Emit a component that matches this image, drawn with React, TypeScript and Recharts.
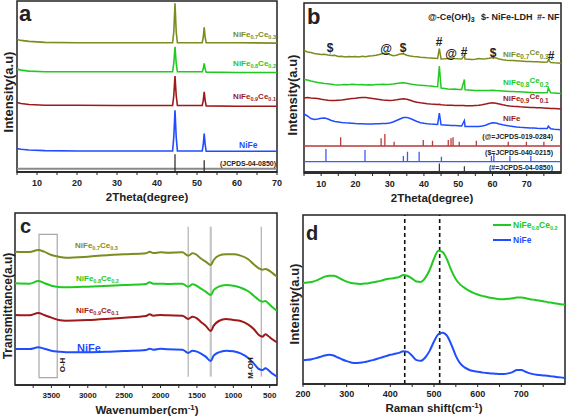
import React from 'react';
import { LineChart, Line, XAxis, YAxis, ReferenceArea, ReferenceLine } from 'recharts';

const FONT = '"Liberation Sans", Arial, Helvetica, sans-serif';
const OLIVE = '#7d8c1f';
const GREEN = '#22c922';
const RED = '#9e1a1a';
const BLUE = '#1f4dff';
const INK = '#222';

// ---------- Panel a : XRD ----------
const aTheta = [5, 6, 8, 12, 20, 30, 40, 43.9, 44.2, 44.5, 44.8, 45.1, 51.3, 51.55, 51.8, 52.05, 52.3, 60, 70];
const aCe03 = [397, 394, 391, 388, 387, 387, 387, 387, 420, 505, 420, 387, 387, 402, 433, 402, 387, 387, 386];
const aCe02 = [308, 305, 302, 300, 300, 300, 300, 300, 326, 375, 326, 300, 300, 308, 325, 308, 299, 298, 298];
const aCe01 = [208, 205, 202, 200, 200, 199, 199, 199, 229, 287, 229, 199, 199, 213, 240, 213, 198, 197, 197];
const aNiFe = [70, 68, 66, 64, 63, 63, 63, 63, 105, 185, 105, 63, 63, 81, 115, 81, 62, 62, 62];
const aTicks = [5, 10, 15, 20, 25, 30, 35, 40, 45, 50, 55, 60, 65, 70];
const nfPos = [44.5, 51.8];
const nfInt = [100, 66];

// ---------- Panel b : XRD ----------
const bTheta = [5, 6, 7, 8, 9, 10, 11, 12, 13, 14, 15, 16, 17, 18, 19, 20, 21, 22, 23, 24, 25, 26, 27, 28, 29, 30,
  31, 32, 33, 34, 35, 36, 37, 38, 39, 40, 41, 42, 43, 44, 44.5, 45, 46, 47, 48, 49, 50, 51, 51.8, 52, 53, 54, 55,
  56, 57, 58, 59, 60, 61, 62, 63, 64, 65, 66, 67, 68, 69, 70, 71, 72, 73, 74, 75, 76, 76.3, 77, 78, 79, 80];
const bCe03 = [122.5, 121, 120.5, 119.5, 119, 118.5, 118.8, 118, 117.5, 117.8, 116.5, 116.8, 116, 116.5, 116.2, 116.5,
  116, 116.8, 116.3, 117, 117.2, 117.8, 118.5, 119.5, 120, 118.5, 117.2, 117.8, 119, 119.2, 117.8, 117, 116.5, 116.2,
  115.8, 115.5, 115.2, 115, 114.8, 114.6, 124.5, 114, 114.2, 114.5, 115.2, 114.6, 114.2, 114, 117.5, 114, 113.8, 113.5,
  113.8, 114.5, 114, 114.2, 114.8, 115.5, 115, 114, 113.2, 112.8, 112.5, 112.4, 112.2, 112, 111.8, 111.6, 111.5, 111.3,
  111.2, 111, 110.8, 111, 113, 110.5, 110.2, 110, 109.7];
const bCe02 = [93.5, 93, 92, 91.2, 90.5, 90, 89.5, 89.2, 88.8, 88.3, 88, 88.2, 88.5, 88.3, 88.8, 88.6, 88.2, 88.5, 88,
  88.2, 88, 88.4, 88.6, 88.8, 88.5, 88.7, 89, 89.5, 90, 90.3, 89.8, 89, 88.4, 88, 87.8, 87.5, 87.2, 87, 86.6, 86.3, 107,
  85, 84.6, 84, 83.8, 83.9, 83.6, 83.5, 93.5, 83.2, 83, 82.8, 82.5, 82.6, 82.4, 82.5, 82.6, 82.8, 82.4, 82.2, 82, 81.8,
  81.6, 81.5, 81.3, 81.2, 81, 80.8, 80.6, 80.4, 80.3, 80.2, 80.3, 80.5, 85, 80.2, 80, 79.8, 79.6];
const bCe01 = [75, 75.5, 75, 74.8, 74.5, 73.8, 73.2, 72.8, 72.5, 72.6, 72.8, 73, 73.5, 74, 74.5, 74.8, 75.2, 75.5, 75.4,
  75, 74.5, 74, 73.5, 73, 72.8, 72.6, 72.8, 73.2, 73.8, 74.2, 73.8, 72.8, 71.5, 70.8, 70.2, 69.8, 69.3, 69, 68.8, 68.6,
  68.8, 68.3, 68, 67.8, 67.8, 67.6, 67.5, 67.4, 67.5, 67.3, 67.2, 67.2, 67.5, 67.8, 68.3, 69, 69.8, 70.2, 69.8, 69, 68.2,
  67.5, 67, 66.7, 66.5, 66.2, 66, 65.8, 65.6, 65.5, 65.3, 65.2, 65, 64.8, 64.8, 64.6, 64.4, 64.2, 64];
const bNiFe = [59, 57, 54.5, 53.5, 54, 54.8, 55, 54, 52.5, 51.5, 51, 50.5, 50.2, 50, 49.8, 49.5, 49.3, 49.2, 49, 49, 49,
  49.2, 49.3, 49.5, 49.6, 50, 51, 52.5, 54, 55.5, 55.6, 54.5, 53, 51.5, 50.3, 49.7, 49.3, 49, 48.8, 48.6, 60, 48.2, 48,
  47.8, 47.6, 47.4, 47.2, 47, 52.5, 46.6, 46.5, 46.4, 46.4, 46.6, 47, 47.8, 49.2, 50.3, 50, 49, 48.2, 47.6, 47, 46.5, 46,
  45.7, 45.5, 45.3, 45.1, 44.9, 44.7, 44.6, 44.5, 44.5, 46.8, 44.2, 43.8, 43.5, 43.2];
const bTicks = [5, 10, 15, 20, 25, 30, 35, 40, 45, 50, 55, 60, 65, 70, 75];
const ceohPos = [15.7, 27.5, 28.6, 31.3, 39.8, 42.5, 47.1, 47.9, 48.5, 50.3, 55.3, 64.6, 69.9, 75.0];
const ceohInt = [72, 64, 100, 36, 50, 44, 50, 64, 72, 36, 44, 36, 36, 36];
const ldhPos = [11.4, 22.8, 34.0, 35.2, 38.6, 45.1, 59.7, 60.4, 65.1, 71.2];
const ldhInt = [100, 92, 45, 79, 79, 39, 45, 66, 45, 45];

// ---------- Panel c : FTIR ----------
const cWave = [4000, 3800, 3680, 3600, 3500, 3400, 3300, 3000, 2700, 2500, 2200, 2150, 2100, 2000, 1900, 1700, 1620, 1560,
  1500, 1450, 1380, 1310, 1270, 1200, 1100, 1000, 900, 800, 720, 650, 600, 560, 520, 470, 400];
const cCe03 = [400, 399, 405, 400, 390, 385, 382, 385, 390, 392, 395, 400, 396, 398, 397, 398, 388, 395, 390, 380, 370, 360,
  375, 388, 392, 392, 388, 378, 362, 350, 346, 348, 345, 337, 325];
const cCe02 = [305, 304, 312, 306, 298, 294, 293, 295, 298, 300, 303, 308, 304, 304, 303, 304, 295, 302, 297, 290, 280, 270,
  285, 295, 300, 298, 292, 282, 268, 255, 250, 252, 245, 235, 222];
const cCe01 = [210, 209, 216, 210, 202, 195, 193, 195, 199, 202, 207, 212, 208, 210, 209, 208, 198, 205, 200, 190, 178, 162,
  178, 192, 198, 195, 192, 182, 168, 150, 145, 152, 147, 138, 128];
const cNiFe = [108, 108, 113, 109, 103, 100, 98, 98, 100, 102, 105, 109, 106, 109, 107, 106, 96, 103, 100, 95, 85, 72, 88,
  98, 103, 101, 95, 82, 65, 48, 45, 50, 45, 35, 25];
const cTicks = [500, 750, 1000, 1250, 1500, 1750, 2000, 2250, 2500, 2750, 3000, 3250, 3500, 3750];
const cBands = [1620, 1310, 616];

// ---------- Panel d : Raman ----------
const dShift = [200, 210, 220, 230, 240, 250, 260, 270, 280, 290, 300, 310, 320, 330, 340, 350, 360, 370, 380, 390, 400,
  410, 420, 430, 440, 450, 460, 470, 480, 490, 500, 510, 520, 530, 540, 550, 560, 570, 580, 590, 600, 610, 620, 630,
  640, 650, 660, 670, 680, 690, 700, 710, 720, 730, 740, 750, 760, 770, 780, 790, 800];
const dCe02 = [305, 306, 308, 312, 318, 324, 327, 327, 322, 315, 309, 305, 303, 302, 303, 304, 307, 309, 312, 316, 318,
  320, 323, 329, 326, 318, 309, 308, 320, 344, 378, 402, 398, 375, 342, 316, 300, 290, 282, 275, 270, 266, 263, 260,
  258, 256, 256, 257, 259, 261, 261, 259, 256, 254, 252, 250, 247, 245, 243, 241, 240];
const dNiFe = [72, 73, 75, 78, 82, 86, 88, 86, 80, 74, 69, 65, 63, 64, 66, 69, 72, 76, 80, 84, 88, 91, 94, 99, 97, 85, 72,
  70, 80, 100, 128, 150, 155, 145, 118, 85, 62, 50, 43, 39, 37, 35, 33, 32, 31, 30, 30, 32, 36, 42, 42, 37, 32, 29, 27,
  26, 25, 23, 21, 20, 18];
const dTicks = [200, 250, 300, 350, 400, 450, 500, 550, 600, 650, 700, 750];
const dMarks = [433, 513];

const toXY = (xs: number[], ys: number[]) => xs.map((x, i) => ({ x, y: ys[i] }));
const sticks = (pos: number[], inten: number[], base: number, scale: number, x0: number, x1: number) => {
  const out: { x: number; y: number }[] = [{ x: x0, y: base }];
  pos.forEach((p, i) => {
    out.push({ x: p, y: base }, { x: p, y: base + inten[i] * scale }, { x: p, y: base });
  });
  out.push({ x: x1, y: base });
  return out;
};

const axisProps = (fs: number, margin: number) => ({
  type: 'number' as const,
  dataKey: 'x',
  allowDataOverflow: true,
  interval: 0 as const,
  tickSize: 3,
  tickMargin: margin,
  axisLine: { stroke: INK, strokeWidth: 1.5 },
  tickLine: { stroke: INK },
  tick: { fontSize: fs, fontWeight: 700, fill: INK, fontFamily: FONT },
});

const NiFeCe = ({ x, y, a, b, fill, size, sub, anchor = 'start', raise = 0 }: any) => (
  <text x={x} y={y} fill={fill} fontSize={size} fontWeight="bold" textAnchor={anchor}>
    NiFe
    <tspan fontSize={sub} dy={2}>{a}</tspan>
    <tspan dy={-2 - raise}>Ce</tspan>
    <tspan fontSize={sub} dy={2 + raise}>{b}</tspan>
  </text>
);

const RotLabel = ({ cx, cy, size, children }: any) => (
  <text transform={`translate(${cx},${cy}) rotate(-90)`} textAnchor="middle" dominantBaseline="central"
    fontSize={size} fontWeight="bold" fill={INK}>{children}</text>
);

export default function App() {
  const lw = 1.6;
  return (
    <div style={{ position: 'absolute', left: 0, top: 0, width: 567, height: 418, background: '#fff', fontFamily: FONT, overflow: 'hidden' }}>
      {/* Panel a */}
      <div style={{ position: 'absolute', left: 0, top: 0 }}>
        <LineChart width={290} height={200} margin={{ top: 1, right: 13, left: 17, bottom: 0 }}>
          <XAxis {...axisProps(9, 5)} domain={[5, 70]} ticks={aTicks} height={28}
            tickFormatter={(v: number) => (v % 10 === 0 ? String(v) : '')} />
          <YAxis type="number" domain={[0, 512]} hide allowDataOverflow />
          <ReferenceArea x1={5} x2={70} y1={0} y2={512} fill="none" stroke={INK} strokeWidth={1.5} ifOverflow="visible" />
          <ReferenceLine y={10} stroke="#8a8a8a" strokeWidth={2} />
          <Line data={sticks(nfPos, nfInt, 0, 0.53, 5, 70)} dataKey="y" type="linear" stroke="#333" strokeWidth={1.3} dot={false} isAnimationActive={false} />
          <Line data={toXY(aTheta, aNiFe)} dataKey="y" type="linear" stroke={BLUE} strokeWidth={lw} dot={false} isAnimationActive={false} />
          <Line data={toXY(aTheta, aCe01)} dataKey="y" type="linear" stroke={RED} strokeWidth={lw} dot={false} isAnimationActive={false} />
          <Line data={toXY(aTheta, aCe02)} dataKey="y" type="linear" stroke={GREEN} strokeWidth={lw} dot={false} isAnimationActive={false} />
          <Line data={toXY(aTheta, aCe03)} dataKey="y" type="linear" stroke={OLIVE} strokeWidth={lw} dot={false} isAnimationActive={false} />
        </LineChart>
      </div>

      {/* Panel b */}
      <div style={{ position: 'absolute', left: 285, top: 0 }}>
        <LineChart width={282} height={200} margin={{ top: 3, right: 6, left: 19, bottom: 0 }}>
          <XAxis {...axisProps(9, 5)} domain={[5, 80]} ticks={bTicks} height={27}
            tickFormatter={(v: number) => (v % 10 === 0 ? String(v) : '')} />
          <YAxis type="number" domain={[0, 170]} hide allowDataOverflow />
          <ReferenceArea x1={5} x2={80} y1={0} y2={170} fill="none" stroke={INK} strokeWidth={1.5} ifOverflow="visible" />
          <Line data={sticks(ceohPos, ceohInt, 27, 0.12, 5, 80)} dataKey="y" type="linear" stroke="#b83a3a" strokeWidth={1.3} dot={false} isAnimationActive={false} />
          <Line data={sticks(ldhPos, ldhInt, 11.3, 0.127, 5, 80)} dataKey="y" type="linear" stroke="#3a5cff" strokeWidth={1.3} dot={false} isAnimationActive={false} />
          <Line data={sticks(nfPos, nfInt, 1.5, 0.08, 5, 80)} dataKey="y" type="linear" stroke="#333" strokeWidth={1.2} dot={false} isAnimationActive={false} />
          <Line data={toXY(bTheta, bNiFe)} dataKey="y" type="linear" stroke={BLUE} strokeWidth={1.5} dot={false} isAnimationActive={false} />
          <Line data={toXY(bTheta, bCe01)} dataKey="y" type="linear" stroke={RED} strokeWidth={1.5} dot={false} isAnimationActive={false} />
          <Line data={toXY(bTheta, bCe02)} dataKey="y" type="linear" stroke={GREEN} strokeWidth={1.5} dot={false} isAnimationActive={false} />
          <Line data={toXY(bTheta, bCe03)} dataKey="y" type="linear" stroke={OLIVE} strokeWidth={1.5} dot={false} isAnimationActive={false} />
        </LineChart>
      </div>

      {/* Panel c */}
      <div style={{ position: 'absolute', left: 0, top: 205 }}>
        <LineChart width={290} height={205} margin={{ top: 8, right: 13, left: 15, bottom: 0 }}>
          <XAxis {...axisProps(8, 4)} domain={[400, 4000]} reversed ticks={cTicks} height={25}
            tickFormatter={(v: number) => (v % 500 === 0 ? String(v) : '')} />
          <YAxis type="number" domain={[0, 516]} hide allowDataOverflow />
          <ReferenceArea x1={400} x2={4000} y1={0} y2={516} fill="none" stroke={INK} strokeWidth={1.5} ifOverflow="visible" />
          <ReferenceArea x1={3670} x2={3420} y1={22} y2={452} fill="none" stroke="#a8a8a8" strokeWidth={1.2} />
          {cBands.map((b, i) => (
            <ReferenceLine key={b} segment={[{ x: b, y: 25 }, { x: b, y: 475 }]} stroke={i === 1 ? '#c6c6c6' : '#b0b0b0'} strokeWidth={i === 1 ? 2.2 : 1.2} />
          ))}
          <Line data={toXY(cWave, cNiFe)} dataKey="y" type="monotone" stroke={BLUE} strokeWidth={2} dot={false} isAnimationActive={false} />
          <Line data={toXY(cWave, cCe01)} dataKey="y" type="monotone" stroke={RED} strokeWidth={2} dot={false} isAnimationActive={false} />
          <Line data={toXY(cWave, cCe02)} dataKey="y" type="monotone" stroke={GREEN} strokeWidth={2} dot={false} isAnimationActive={false} />
          <Line data={toXY(cWave, cCe03)} dataKey="y" type="monotone" stroke={OLIVE} strokeWidth={2} dot={false} isAnimationActive={false} />
        </LineChart>
      </div>

      {/* Panel d */}
      <div style={{ position: 'absolute', left: 285, top: 205 }}>
        <LineChart width={282} height={205} margin={{ top: 10, right: 2, left: 18, bottom: 0 }}>
          <XAxis {...axisProps(9, 4)} domain={[200, 800]} ticks={dTicks} height={26}
            tickFormatter={(v: number) => (v % 100 === 0 ? String(v) : '')} />
          <YAxis type="number" domain={[0, 510]} hide allowDataOverflow />
          <ReferenceArea x1={200} x2={800} y1={0} y2={510} fill="none" stroke={INK} strokeWidth={1.5} ifOverflow="visible" />
          {dMarks.map((m) => (
            <ReferenceLine key={m} x={m} stroke="#111" strokeWidth={1.6} strokeDasharray="4 3" />
          ))}
          <Line data={toXY(dShift, dNiFe)} dataKey="y" type="monotone" stroke={BLUE} strokeWidth={2} dot={false} isAnimationActive={false} />
          <Line data={toXY(dShift, dCe02)} dataKey="y" type="monotone" stroke={GREEN} strokeWidth={2} dot={false} isAnimationActive={false} />
        </LineChart>
      </div>

      {/* Text overlay */}
      <svg width={567} height={418} style={{ position: 'absolute', left: 0, top: 0, pointerEvents: 'none', fontFamily: FONT }}>
        {/* a */}
        <text x={19} y={21} fontSize={22} fontWeight="bold" fill={INK}>a</text>
        <RotLabel cx={8} cy={92} size={13}>Intensity(a.u)</RotLabel>
        <text x={147} y={201} fontSize={11.5} fontWeight="bold" fill={INK} textAnchor="middle">2Theta(degree)</text>
        <NiFeCe x={276} y={37} a="0.7" b="0.3" fill={OLIVE} size={8} sub={5.5} anchor="end" />
        <NiFeCe x={276} y={66} a="0.8" b="0.2" fill={GREEN} size={8} sub={5.5} anchor="end" />
        <NiFeCe x={276} y={99} a="0.9" b="0.1" fill={RED} size={8} sub={5.5} anchor="end" />
        <text x={239} y={148} fontSize={8.5} fontWeight="bold" fill={BLUE}>NiFe</text>
        <text x={276} y={166} fontSize={7} fontWeight="bold" fill={INK} textAnchor="end">(JCPDS-04-0850)</text>

        {/* b */}
        <text x={307} y={24} fontSize={22} fontWeight="bold" fill={INK}>b</text>
        <text x={428} y={20} fontSize={9} fontWeight="bold" fill={INK}>@-Ce(OH)<tspan fontSize={7} dy={2}>3</tspan></text>
        <text x={481} y={20} fontSize={9} fontWeight="bold" fill={INK}>$- NiFe-LDH</text>
        <text x={537} y={20} fontSize={9} fontWeight="bold" fill={INK}>#- NF</text>
        {[['$', 330, 52], ['@', 386, 52.5], ['$', 403, 52], ['#', 439, 45.5], ['@', 451, 57.5], ['#', 464, 55.5], ['$', 493, 56.5], ['#', 551, 59.5]].map(([s, x, y], i) => (
          <text key={i} x={x as number} y={y as number} fontSize={12} fontWeight="bold" fill={INK} textAnchor="middle">{s}</text>
        ))}
        <NiFeCe x={503} y={57} a="0.7" b="0.3" fill={OLIVE} size={8} sub={6.5} raise={2} />
        <NiFeCe x={503} y={85} a="0.8" b="0.2" fill={GREEN} size={8} sub={6.5} raise={2} />
        <NiFeCe x={503} y={101} a="0.9" b="0.1" fill={RED} size={8} sub={6.5} raise={2} />
        <text x={503} y={121} fontSize={8} fontWeight="bold" fill={RED}>NiFe</text>
        <text x={553} y={139} fontSize={7} fontWeight="bold" fill={INK} textAnchor="end">(@=JCPDS-019-0284)</text>
        <text x={553} y={155} fontSize={7} fontWeight="bold" fill={INK} textAnchor="end">($=JCPDS-040-0215)</text>
        <text x={553} y={170} fontSize={7} fontWeight="bold" fill={INK} textAnchor="end">(#=JCPDS-04-0850)</text>
        <RotLabel cx={292} cy={95} size={13}>Intensity(a.u)</RotLabel>
        <text x={432} y={202} fontSize={11.5} fontWeight="bold" fill={INK} textAnchor="middle">2Theta(degree)</text>

        {/* c */}
        <text x={20} y={233} fontSize={20} fontWeight="bold" fill={INK}>c</text>
        <RotLabel cx={8} cy={306} size={12}>Transmittance(a.u)</RotLabel>
        <text x={147} y={414} fontSize={11.5} fontWeight="bold" fill={INK} textAnchor="middle">
          Wavenumber(cm<tspan fontSize={8} dy={-4}>-1</tspan><tspan dy={4}>)</tspan>
        </text>
        <NiFeCe x={75} y={248} a="0.7" b="0.3" fill={OLIVE} size={8} sub={5.5} />
        <NiFeCe x={76} y={281} a="0.8" b="0.2" fill={GREEN} size={8} sub={5.5} />
        <NiFeCe x={76} y={313} a="0.9" b="0.1" fill={RED} size={8} sub={5.5} />
        <text x={77} y={352} fontSize={11} fontWeight="bold" fill={BLUE}>NiFe</text>
        <RotLabel cx={62.5} cy={365} size={8}>O-H</RotLabel>
        <RotLabel cx={250} cy={368} size={8}>M-OH</RotLabel>

        {/* d */}
        <text x={306} y={240} fontSize={20} fontWeight="bold" fill={INK}>d</text>
        <RotLabel cx={294} cy={304} size={13}>Intensity(a.u)</RotLabel>
        <text x={434} y={412} fontSize={11.5} fontWeight="bold" fill={INK} textAnchor="middle">
          Raman shift(cm<tspan fontSize={8} dy={-4}>-1</tspan><tspan dy={4}>)</tspan>
        </text>
        <line x1={493} x2={511} y1={225} y2={225} stroke={GREEN} strokeWidth={2} />
        <NiFeCe x={513} y={228} a="0.8" b="0.2" fill={GREEN} size={8.5} sub={5.5} />
        <line x1={493} x2={511} y1={240} y2={240} stroke={BLUE} strokeWidth={2} />
        <text x={513} y={243} fontSize={8.5} fontWeight="bold" fill={BLUE}>NiFe</text>
      </svg>
    </div>
  );
}
